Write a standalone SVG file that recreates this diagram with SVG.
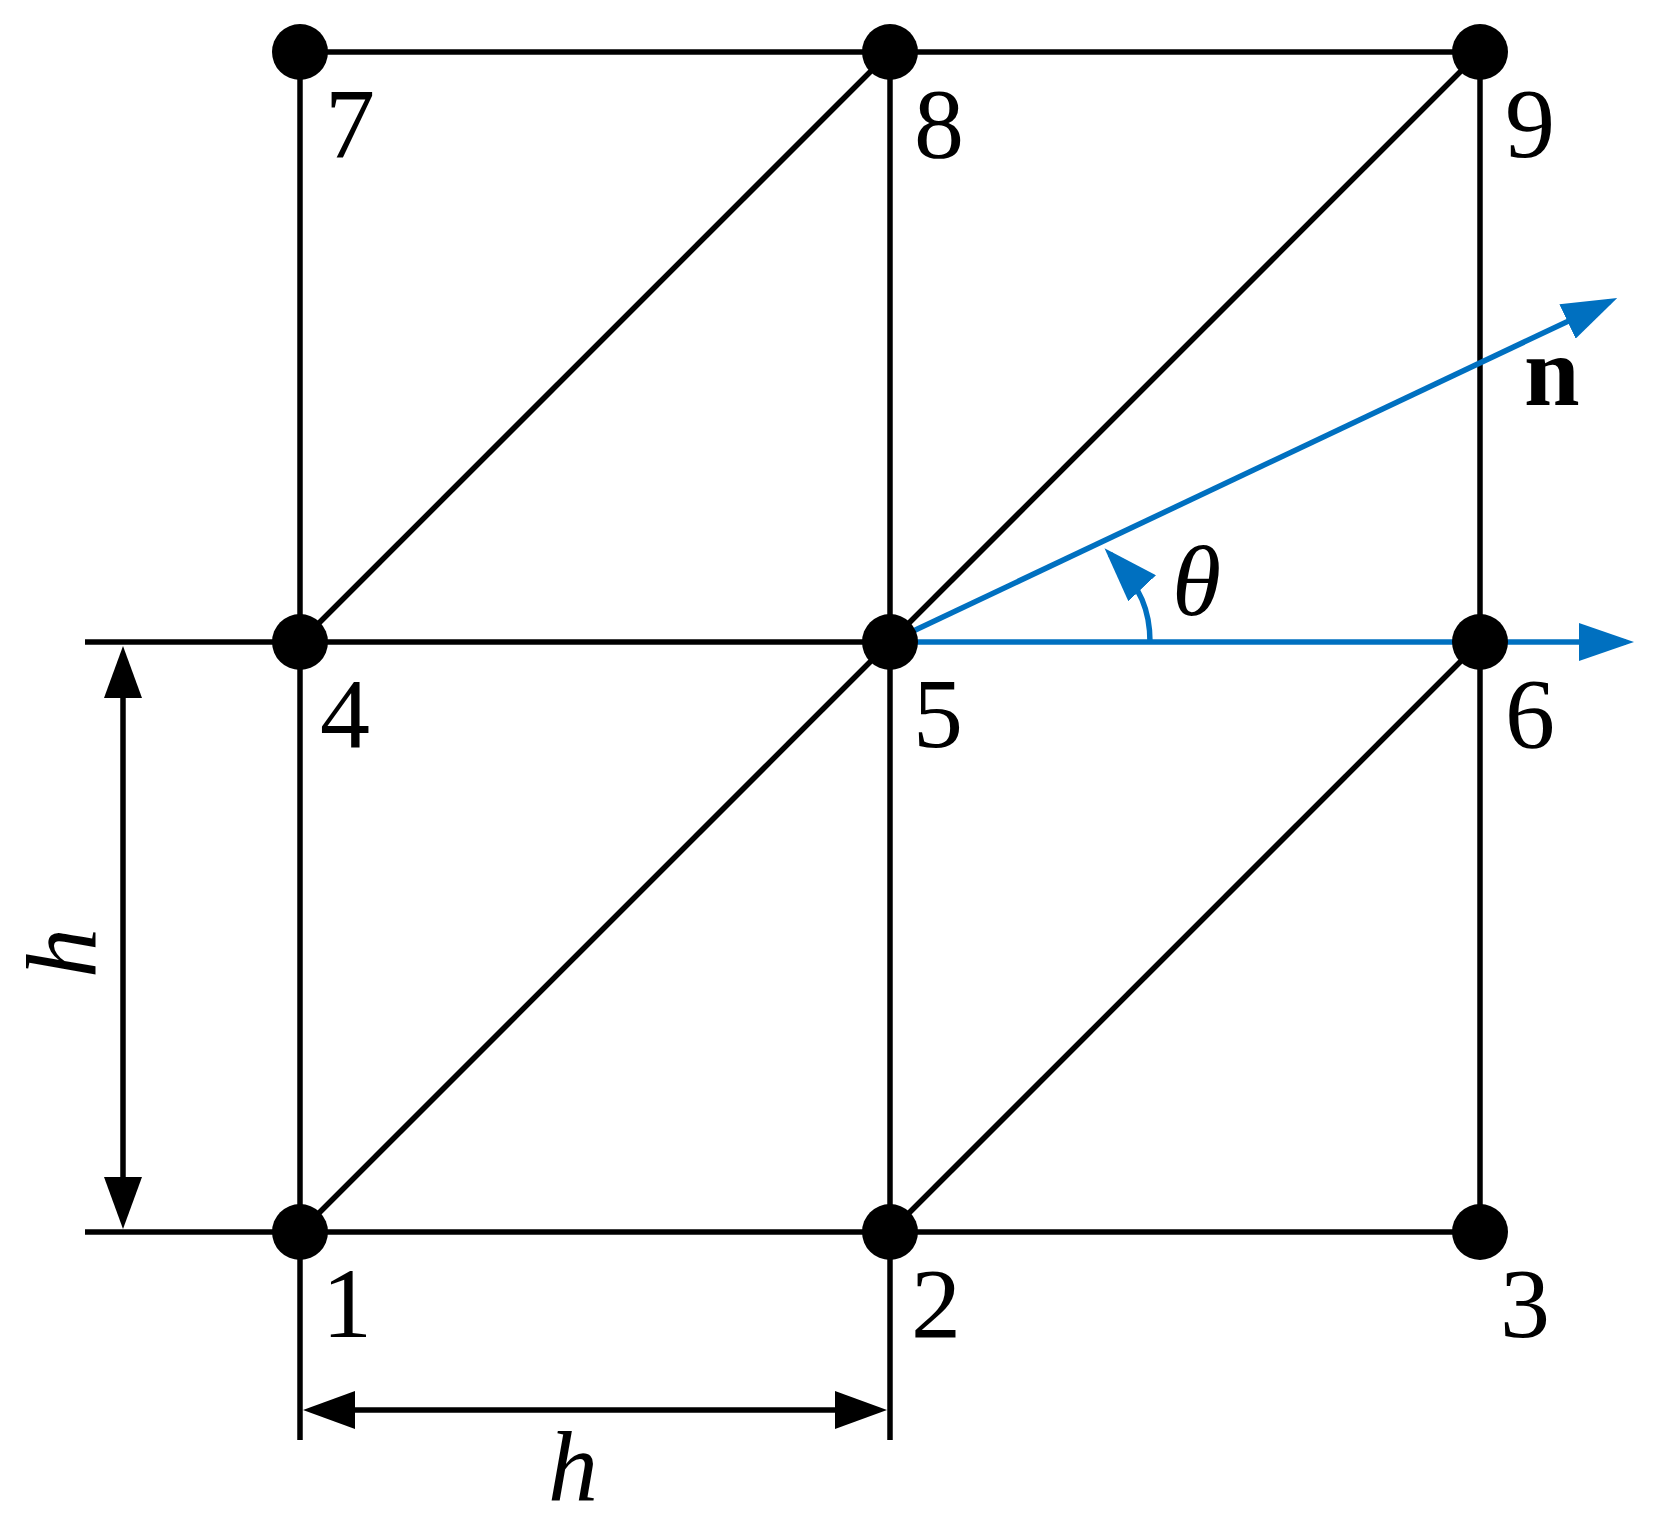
<svg xmlns="http://www.w3.org/2000/svg" width="1662" height="1528" viewBox="0 0 1662 1528">
  <style>
    .ln { stroke: #000; stroke-width: 5.5; fill: none; }
    .bl { stroke: #0070C0; stroke-width: 5.5; fill: none; }
    .nd { fill: #000; }
    .lb { font-family: "Liberation Serif", "Times New Roman", serif; font-size: 100px; fill: #000; }
    .it { font-style: italic; }
    .bd { font-weight: bold; }
  </style>
  <defs>
    <marker id="ak" markerUnits="userSpaceOnUse" markerWidth="52" markerHeight="38" viewBox="0 0 52 38" refX="44" refY="19" orient="auto-start-reverse">
      <path d="M0,0 L52,19 L0,38 z" fill="#000"/>
    </marker>
    <marker id="ab" markerUnits="userSpaceOnUse" markerWidth="55" markerHeight="38" viewBox="0 0 55 38" refX="47" refY="19" orient="auto">
      <path d="M0,0 L55,19 L0,38 z" fill="#0070C0"/>
    </marker>
  </defs>
  <rect width="1662" height="1528" fill="#fff"/>

  <g id="connectors">
    <line class="ln" x1="300" y1="52" x2="1480" y2="52"/>
    <line class="ln" x1="85" y1="642" x2="890" y2="642"/>
    <line class="ln" x1="85" y1="1232" x2="1480" y2="1232"/>
    <line class="ln" x1="300" y1="52" x2="300" y2="1440"/>
    <line class="ln" x1="890" y1="52" x2="890" y2="1440"/>
    <line class="ln" x1="1480" y1="52" x2="1480" y2="1232"/>
    <line class="ln" x1="300" y1="642" x2="890" y2="52"/>
    <line class="ln" x1="890" y1="642" x2="1480" y2="52"/>
    <line class="ln" x1="300" y1="1232" x2="890" y2="642"/>
    <line class="ln" x1="890" y1="1232" x2="1480" y2="642"/>
    <line class="ln" x1="123" y1="654" x2="123" y2="1221" marker-start="url(#ak)" marker-end="url(#ak)"/>
    <line class="ln" x1="311" y1="1410" x2="879" y2="1410" marker-start="url(#ak)" marker-end="url(#ak)"/>
    <line class="bl" x1="890" y1="642" x2="1626" y2="642" marker-end="url(#ab)"/>
    <line class="bl" x1="890" y1="642" x2="1610" y2="301.4" marker-end="url(#ab)"/>
    <path class="bl" d="M1150,642 C1150,612 1142,588 1110,554" marker-end="url(#ab)"/>
  </g>

  <g id="node-1"><circle class="nd" cx="300" cy="1232" r="28"/><text class="lb" x="322" y="1337">1</text></g>
  <g id="node-2"><circle class="nd" cx="890" cy="1232" r="28"/><text class="lb" x="911" y="1337">2</text></g>
  <g id="node-3"><circle class="nd" cx="1480" cy="1232" r="28"/><text class="lb" x="1500" y="1337">3</text></g>
  <g id="node-4"><circle class="nd" cx="300" cy="642" r="28"/><text class="lb" x="320" y="747">4</text></g>
  <g id="node-5"><circle class="nd" cx="890" cy="642" r="28"/><text class="lb" x="913" y="747">5</text></g>
  <g id="node-6"><circle class="nd" cx="1480" cy="642" r="28"/><text class="lb" x="1505" y="747">6</text></g>
  <g id="node-7"><circle class="nd" cx="300" cy="52" r="28"/><text class="lb" x="325" y="157">7</text></g>
  <g id="node-8"><circle class="nd" cx="890" cy="52" r="28"/><text class="lb" x="914" y="157">8</text></g>
  <g id="node-9"><circle class="nd" cx="1480" cy="52" r="28"/><text class="lb" x="1505" y="157">9</text></g>

  <g id="labels">
    <text class="lb bd" x="1524" y="405">n</text>
    <text class="lb it" x="1172" y="615">θ</text>
    <text class="lb it" x="548" y="1500">h</text>
    <text class="lb it" transform="translate(95,978) rotate(-90)" x="0" y="0">h</text>
  </g>
</svg>
